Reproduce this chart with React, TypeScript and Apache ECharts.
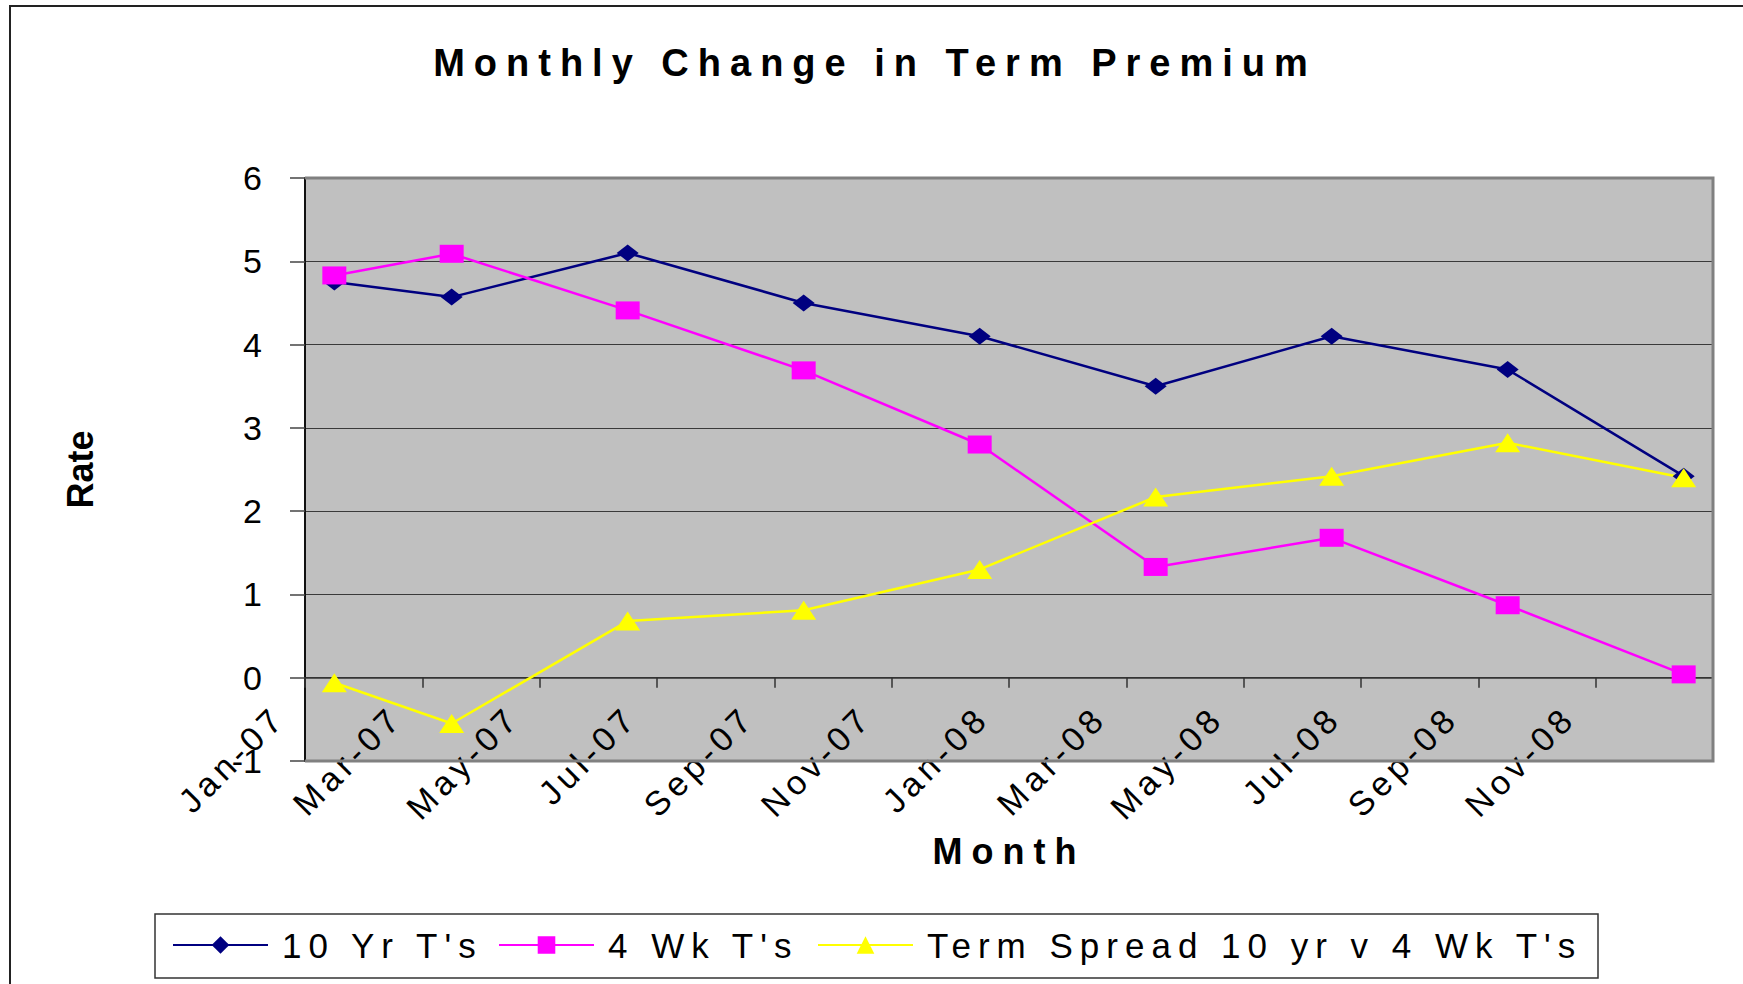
import React, { useEffect, useRef } from "react";
import * as echarts from "echarts";

// ---- data ----
const TITLE = "Monthly Change in Term Premium";
const X_NAME = "Month";
const Y_NAME = "Rate";
const periods = ["2007-01", "2007-03", "2007-06", "2007-09", "2007-12", "2008-03", "2008-06", "2008-09", "2008-12"];
const tenYear = [4.75, 4.57, 5.1, 4.5, 4.1, 3.5, 4.1, 3.7, 2.42];
const fourWeek = [4.83, 5.09, 4.41, 3.69, 2.8, 1.33, 1.68, 0.87, 0.04];
const termSpread = [-0.06, -0.55, 0.68, 0.81, 1.3, 2.17, 2.42, 2.82, 2.4];
const seriesNames = ["10 Yr T's", "4 Wk T's", "Term Spread 10 yr v 4 Wk T's"];
const tickLabels = ["Jan-07", "Mar-07", "May-07", "Jul-07", "Sep-07", "Nov-07", "Jan-08", "Mar-08", "May-08", "Jul-08", "Sep-08", "Nov-08"];
const yTicks = { min: -1, max: 6, interval: 1 };

const FONT = '"Liberation Sans", Arial, Helvetica, sans-serif';

// month slot index (centre of the month), Jan-07 starts at 0
const monthPos = (p: string) => {
  const [y, m] = p.split("-").map(Number);
  return (y - 2007) * 12 + (m - 1) + 0.5;
};
const toPairs = (vals: number[]) => periods.map((p, i) => [monthPos(p), vals[i]]);

// layout
const G = { left: 305, top: 178, right: 1713, bottom: 761 };
// the category axis crosses the value axis at 0
const zeroOffset = -((0 - yTicks.min) / (yTicks.max - yTicks.min)) * (G.bottom - G.top);

export default function App() {
  const ref = useRef<HTMLDivElement>(null);

  useEffect(() => {
    if (!ref.current) return;
    const chart = echarts.init(ref.current, null, { renderer: "svg" });

    const option: any = {
      animation: false,
      backgroundColor: "#ffffff",
      textStyle: { fontFamily: FONT },
      title: {
        text: TITLE,
        left: 875,
        top: 44,
        padding: 0,
        textAlign: "center",
        textStyle: { fontSize: 38, fontWeight: "bold", color: "#000", fontFamily: FONT },
      },
      grid: {
        left: G.left,
        top: G.top,
        right: 1743 - G.right,
        bottom: 984 - G.bottom,
        containLabel: false,
        outerBoundsMode: "none",
        show: true,
        backgroundColor: "#C0C0C0",
        borderWidth: 0,
      },
      legend: seriesNames.map((n, i) => ({
        data: [n],
        left: [172, 498, 817][i],
        top: 925,
        padding: 0,
        itemWidth: 95,
        itemHeight: 22,
        selectedMode: false,
        textStyle: { fontSize: 35, color: "#000", fontFamily: FONT, padding: [0, 0, 0, 9], lineHeight: 40 },
      })),
      xAxis: {
        type: "value",
        min: 0,
        max: 24,
        interval: 2,
        offset: zeroOffset,
        name: X_NAME,
        nameLocation: "middle",
        nameGap: 156,
        nameTextStyle: { fontSize: 36, fontWeight: "bold", color: "#000", fontFamily: FONT },
        axisLine: { show: true, onZero: false, lineStyle: { color: "#333", width: 1.5 } },
        axisTick: { show: true, inside: false, length: 10, lineStyle: { color: "#333", width: 1.5 } },
        axisLabel: {
          rotate: 45,
          margin: 8,
          padding: [0, 37, 0, 0],
          fontSize: 34,
          color: "#000",
          fontFamily: FONT,
          formatter: (v: number) => (v / 2 < tickLabels.length ? tickLabels[v / 2] : ""),
        },
        splitLine: { show: false },
      },
      yAxis: {
        type: "value",
        min: yTicks.min,
        max: yTicks.max,
        interval: yTicks.interval,
        name: Y_NAME,
        nameLocation: "middle",
        nameGap: 207,
        nameRotate: 90,
        nameTextStyle: { fontSize: 36, fontWeight: "bold", color: "#000", fontFamily: FONT },
        axisLine: { show: true, onZero: false, lineStyle: { color: "#111", width: 2 } },
        axisTick: { show: true, inside: false, length: 15, lineStyle: { color: "#444", width: 1.5 } },
        axisLabel: { margin: 43, fontSize: 34, color: "#000", fontFamily: FONT },
        splitLine: { show: true, lineStyle: { color: "#3a3a3a", width: 1.2 } },
      },
      series: [
        {
          name: seriesNames[0],
          type: "line",
          data: toPairs(tenYear),
          symbol: "diamond",
          symbolSize: [22, 17],
          lineStyle: { color: "#000080", width: 2.5 },
          itemStyle: { color: "#000080", borderWidth: 0 },
        },
        {
          name: seriesNames[1],
          type: "line",
          data: toPairs(fourWeek),
          symbol: "rect",
          symbolSize: [24, 18],
          lineStyle: { color: "#FF00FF", width: 2.5 },
          itemStyle: { color: "#FF00FF", borderWidth: 0 },
        },
        {
          name: seriesNames[2],
          type: "line",
          data: toPairs(termSpread),
          symbol: "triangle",
          symbolSize: [25, 19],
          lineStyle: { color: "#FFFF00", width: 2.5 },
          itemStyle: { color: "#FFFF00", borderWidth: 0 },
        },
      ],
      graphic: [
        {
          type: "rect",
          z: -10,
          shape: { x: 10, y: 6, width: 1800, height: 1100 },
          style: { fill: "none", stroke: "#222", lineWidth: 2 },
          silent: true,
        },
        {
          type: "polyline",
          z: 100,
          shape: { points: [[G.left, G.top], [G.right, G.top], [G.right, G.bottom], [G.left, G.bottom]] },
          style: { fill: "none", stroke: "#808080", lineWidth: 3 },
          silent: true,
        },
        {
          type: "rect",
          z: 50,
          shape: { x: 155, y: 914, width: 1443, height: 64 },
          style: { fill: "none", stroke: "#333", lineWidth: 1.5 },
          silent: true,
        },
      ],
    };

    chart.setOption(option);

    const applySpacing = () => {
      const root = ref.current;
      if (!root) return;
      root.querySelectorAll("text").forEach((t) => {
        const s = (t.textContent || "").trim();
        let sp = 0;
        if (s === TITLE) sp = 9;
        else if (s === X_NAME) sp = 9;
        else if (seriesNames.includes(s)) sp = 7;
        else if (tickLabels.includes(s)) sp = 5;
        if (sp) (t as SVGTextElement).style.letterSpacing = sp + "px";
      });
    };
    applySpacing();
    chart.on("finished", applySpacing);

    return () => {
      chart.dispose();
    };
  }, []);

  return (
    <div
      ref={ref}
      style={{ position: "fixed", left: 0, top: 0, width: 1743, height: 984, background: "#fff" }}
    />
  );
}
